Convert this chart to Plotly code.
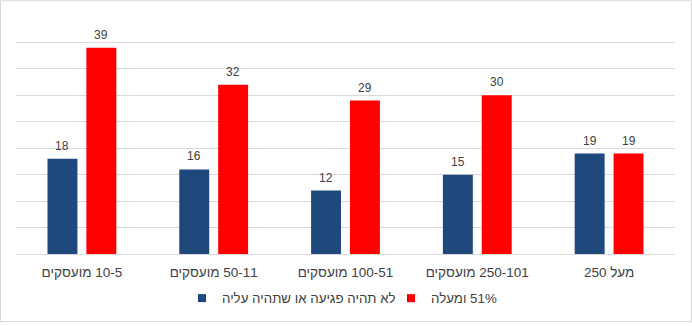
import plotly.graph_objects as go

RLM = "\u200f"
categories = [RLM + "10-5 מועסקים", RLM + "50-11 מועסקים", RLM + "100-51 מועסקים",
              RLM + "250-101 מועסקים", RLM + "מעל 250"]
series_names = [RLM + "לא תהיה פגיעה או שתהיה עליה", RLM + "51% ומעלה"]
blue_values = [18, 16, 12, 15, 19]
red_values = [39, 32, 29, 30, 19]
colors = ["#1F497D", "#FF0000"]

W, H = 692, 326
ml, mr, mt, mb = 16, 17, 16, 69
pw, ph = W - ml - mr, H - mt - mb
bargap = 0.41
bargroupgap = 0.23

fig = go.Figure()
for name, vals, col in zip(series_names, [blue_values, red_values], colors):
    fig.add_trace(go.Bar(x=categories, y=vals, name=name, marker_color=col,
                         marker_line_width=0, hoverinfo="skip", showlegend=False))
for name, col in zip(series_names, colors):
    fig.add_trace(go.Scatter(x=[None], y=[None], mode="markers", name=name,
                             marker=dict(symbol="square", size=8, color=col),
                             hoverinfo="skip", showlegend=True))

shift = pw / len(categories) * (1 - bargap) / 4
annotations = []
for k, vals in enumerate([blue_values, red_values]):
    for c, v in zip(categories, vals):
        annotations.append(dict(x=c, y=v, text=str(v), showarrow=False,
                                xref="x", yref="y", yanchor="bottom",
                                xshift=(-shift if k == 0 else shift), yshift=4,
                                font=dict(size=12, color="#404040",
                                          family="Liberation Sans, Arial")))

fig.update_layout(
    width=W, height=H,
    margin=dict(l=ml, r=mr, t=mt, b=mb, pad=0),
    paper_bgcolor="white", plot_bgcolor="white",
    barmode="group", bargap=bargap, bargroupgap=bargroupgap,
    font=dict(family="Liberation Sans, Arial", size=13, color="#404040"),
    showlegend=True,
    legend=dict(orientation="h", x=(182 - ml) / pw, xanchor="left", y=-0.187, yanchor="middle",
                font=dict(size=13.3, color="#404040"), itemwidth=30,
                entrywidth=164, traceorder="normal", borderwidth=0),
    annotations=annotations,
    shapes=[dict(type="rect", xref="paper", yref="paper",
                 x0=-(ml - 0.5) / pw, x1=1 + (mr - 0.5) / pw,
                 y0=-(mb - 0.5) / ph, y1=1 + (mt - 0.5) / ph,
                 line=dict(color="#D9D9D9", width=1), layer="below")],
)
fig.update_xaxes(showgrid=False, showline=True, linecolor="#D9D9D9", linewidth=1,
                 ticks="", ticklabelstandoff=6, tickfont=dict(size=13.5, color="#404040"),
                 fixedrange=True)
fig.update_yaxes(range=[0, 45], dtick=5, showgrid=True, gridcolor="#D9D9D9",
                 showticklabels=False, zeroline=False, showline=False, ticks="",
                 fixedrange=True)

fig.write_html("out.html")
